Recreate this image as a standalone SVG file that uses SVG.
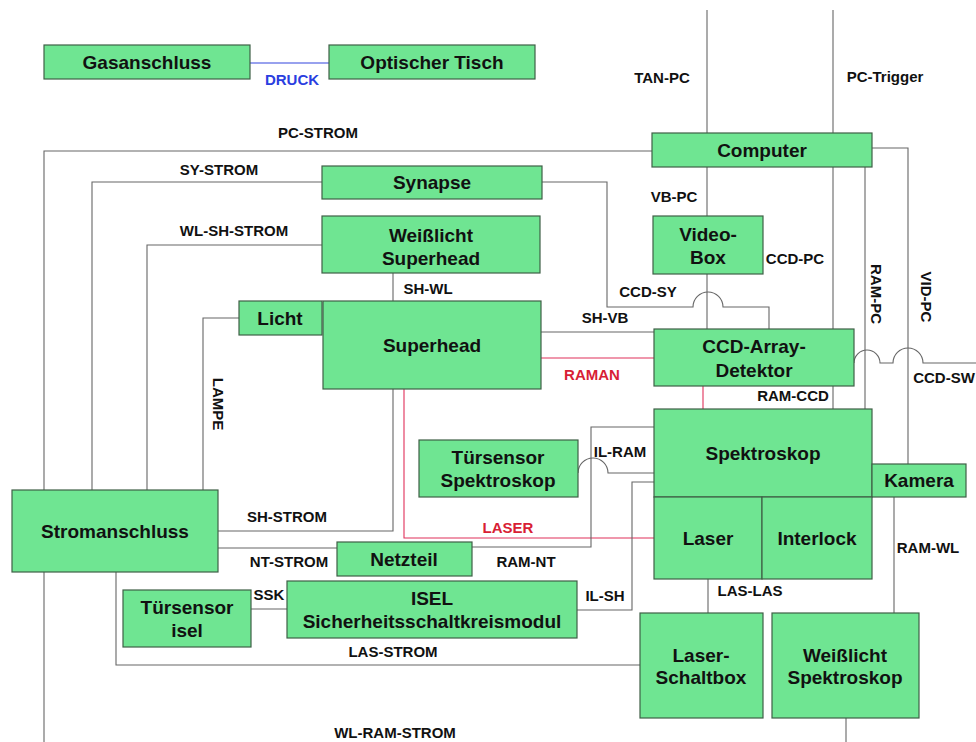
<svg xmlns="http://www.w3.org/2000/svg" width="976" height="742" viewBox="0 0 976 742">
<style>
.n{fill:#6fe592;stroke:#3f5f47;stroke-width:1.2}
.t{font-family:"Liberation Sans",Arial,sans-serif;font-weight:bold;font-size:19px;fill:#111;text-anchor:middle}
.l{font-family:"Liberation Sans",Arial,sans-serif;font-weight:bold;font-size:15px;fill:#111;text-anchor:middle}
.c{fill:none;stroke:#666;stroke-width:1.1}
.r{fill:none;stroke:#e0305a;stroke-width:1.1}
.b{fill:none;stroke:#3344dd;stroke-width:1.1}
.red{fill:#d81e35}
.blue{fill:#2a3ee0}
</style>
<rect width="976" height="742" fill="#fff"/>
<g id="connectors">
<path class="b" d="M250,63 H329"/>
<path class="c" d="M707,10 V133"/>
<path class="c" d="M833,10 V133"/>
<path class="c" d="M652,151 H44 V490"/>
<path class="c" d="M322,182 H92 V490"/>
<path class="c" d="M322,245 H147 V490"/>
<path class="c" d="M239,318 H203 V490"/>
<path class="c" d="M393,273 V301"/>
<path class="c" d="M393,389 V531 H218"/>
<path class="c" d="M218,548 H337"/>
<path class="r" d="M541,358 H654"/>
<path class="r" d="M703,386 V409"/>
<path class="r" d="M404,389 V538 H654"/>
<path class="c" d="M541,332 H654"/>
<path class="c" d="M542,182 H607 V307 H693 A15,15 0 0 1 723,307 H769 V329"/>
<path class="c" d="M707,167 V216"/>
<path class="c" d="M707,274 V329"/>
<path class="c" d="M833,167 V329"/>
<path class="c" d="M833,386 V409"/>
<path class="c" d="M865,167 V409"/>
<path class="c" d="M872,148 H908 V464"/>
<path class="c" d="M854,363 A13,13 0 0 1 880,363 H893 A15,15 0 0 1 923,363 H976"/>
<path class="c" d="M578,473 A15,15 0 0 1 608,473 H654"/>
<path class="c" d="M472,547 H591 V427 H654"/>
<path class="c" d="M654,482 H632 V610 H577"/>
<path class="c" d="M251,609 H287"/>
<path class="c" d="M116,572 V665 H640"/>
<path class="c" d="M44,572 V742"/>
<path class="c" d="M846,718 V742"/>
<path class="c" d="M708,579 V613"/>
<path class="c" d="M894,497 V613"/>
</g>
<g id="labels">
<text class="l blue" x="292" y="85">DRUCK</text>
<text class="l" x="662" y="83">TAN-PC</text>
<text class="l" x="885" y="82">PC-Trigger</text>
<text class="l" x="318" y="138">PC-STROM</text>
<text class="l" x="219" y="175">SY-STROM</text>
<text class="l" x="234" y="236">WL-SH-STROM</text>
<text class="l" x="428" y="294">SH-WL</text>
<text class="l" x="605" y="323">SH-VB</text>
<text class="l" x="648" y="297">CCD-SY</text>
<text class="l" x="674" y="202">VB-PC</text>
<text class="l" x="795" y="264">CCD-PC</text>
<text class="l red" x="592" y="380">RAMAN</text>
<text class="l" x="793" y="401">RAM-CCD</text>
<text class="l" x="944" y="383">CCD-SW</text>
<text class="l" x="620" y="457">IL-RAM</text>
<text class="l" x="287" y="522">SH-STROM</text>
<text class="l red" x="508" y="533">LASER</text>
<text class="l" x="289" y="567">NT-STROM</text>
<text class="l" x="526" y="567">RAM-NT</text>
<text class="l" x="605" y="601">IL-SH</text>
<text class="l" x="269" y="600">SSK</text>
<text class="l" x="393" y="657">LAS-STROM</text>
<text class="l" x="395" y="738">WL-RAM-STROM</text>
<text class="l" x="750" y="596">LAS-LAS</text>
<text class="l" x="928" y="553">RAM-WL</text>
<text class="l" transform="translate(218,404) rotate(90)" y="5">LAMPE</text>
<text class="l" transform="translate(876,294) rotate(90)" y="5">RAM-PC</text>
<text class="l" transform="translate(926,297) rotate(90)" y="5">VID-PC</text>
</g>
<g id="gasanschluss"><rect class="n" x="44" y="45" width="206" height="34"/><text class="t" x="147" y="69">Gasanschluss</text></g>
<g id="optischer-tisch"><rect class="n" x="329" y="45" width="206" height="34"/><text class="t" x="432" y="69">Optischer Tisch</text></g>
<g id="computer"><rect class="n" x="652" y="133" width="220" height="34"/><text class="t" x="762" y="157">Computer</text></g>
<g id="synapse"><rect class="n" x="322" y="166" width="220" height="33"/><text class="t" x="432" y="189">Synapse</text></g>
<g id="weisslicht-superhead"><rect class="n" x="322" y="216" width="218" height="57"/><text class="t" x="431" y="242">Weißlicht</text><text class="t" x="431" y="265">Superhead</text></g>
<g id="licht"><rect class="n" x="239" y="301" width="83" height="34"/><text class="t" x="280" y="325">Licht</text></g>
<g id="superhead"><rect class="n" x="323" y="301" width="218" height="88"/><text class="t" x="432" y="352">Superhead</text></g>
<g id="video-box"><rect class="n" x="653" y="216" width="110" height="58"/><text class="t" x="708" y="241">Video-</text><text class="t" x="708" y="264">Box</text></g>
<g id="ccd-array-detektor"><rect class="n" x="654" y="329" width="200" height="57"/><text class="t" x="754" y="353">CCD-Array-</text><text class="t" x="754" y="377">Detektor</text></g>
<g id="spektroskop"><rect class="n" x="654" y="409" width="218" height="88"/><text class="t" x="763" y="460">Spektroskop</text></g>
<g id="kamera"><rect class="n" x="872" y="464" width="94" height="33"/><text class="t" x="919" y="487">Kamera</text></g>
<g id="laser"><rect class="n" x="654" y="497" width="108" height="82"/><text class="t" x="708" y="545">Laser</text></g>
<g id="interlock"><rect class="n" x="762" y="497" width="110" height="82"/><text class="t" x="817" y="545">Interlock</text></g>
<g id="tuersensor-spektroskop"><rect class="n" x="419" y="440" width="159" height="57"/><text class="t" x="498" y="464">Türsensor</text><text class="t" x="498" y="487">Spektroskop</text></g>
<g id="stromanschluss"><rect class="n" x="12" y="490" width="206" height="82"/><text class="t" x="115" y="538">Stromanschluss</text></g>
<g id="netzteil"><rect class="n" x="337" y="542" width="135" height="34"/><text class="t" x="404" y="566">Netzteil</text></g>
<g id="isel"><rect class="n" x="287" y="581" width="290" height="57"/><text class="t" x="432" y="605">ISEL</text><text class="t" x="432" y="628">Sicherheitsschaltkreismodul</text></g>
<g id="tuersensor-isel"><rect class="n" x="123" y="590" width="128" height="57"/><text class="t" x="187" y="614">Türsensor</text><text class="t" x="187" y="637">isel</text></g>
<g id="laser-schaltbox"><rect class="n" x="640" y="613" width="123" height="105"/><text class="t" x="701" y="662">Laser-</text><text class="t" x="701" y="684">Schaltbox</text></g>
<g id="weisslicht-spektroskop"><rect class="n" x="772" y="613" width="147" height="105"/><text class="t" x="845" y="662">Weißlicht</text><text class="t" x="845" y="684">Spektroskop</text></g>
</svg>
